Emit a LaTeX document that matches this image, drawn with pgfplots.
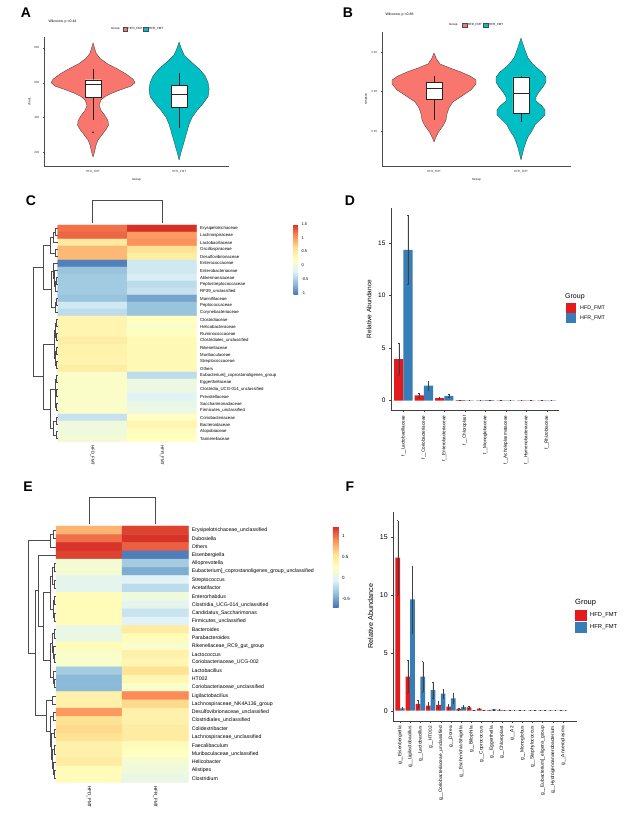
\documentclass[border=0pt]{standalone}
\usepackage{pgfplots}
\usepackage{pgfplotstable}
\pgfplotsset{compat=1.18}
\usepackage{fontspec}
\setmainfont{Liberation Sans}
\definecolor{vred}{HTML}{F8766D}
\definecolor{vteal}{HTML}{00BFC4}
\definecolor{hfd}{HTML}{E41A1C}
\definecolor{hfr}{HTML}{377EB8}
\newcommand{\fs}[1]{\fontsize{#1}{#1}\selectfont}
\pgfplotsset{
  /pgf/number format/assume math mode=true,
  colormap={rdylbu}{rgb255=(69,117,180) rgb255=(145,191,219) rgb255=(224,243,248) rgb255=(255,255,191) rgb255=(254,224,144) rgb255=(252,141,89) rgb255=(215,48,39)},
  violin/.style={scale only axis, axis x line*=bottom, axis y line*=left,
    axis line style={-, black!70, line width=0.3pt}, tick style={black!70, line width=0.3pt},
    tick align=outside, major tick length=1.2pt,
    tick label style={font=\fs{3}, text=black!75}, label style={font=\fs{3}},
    xlabel style={yshift=2pt}, ylabel style={yshift=-3pt}},
  heat/.style={scale only axis, y dir=reverse, clip=false, axis line style={draw=none},
    major tick length=0pt, xtick={0,1}, xticklabels={HFD\_FMT,HFR\_FMT},
    xticklabel style={rotate=-90, anchor=west}, ytick={1,...,31}, yticklabel pos=right,
    xmin=-0.5, xmax=1.5, ymin=0.5, ymax=31.5, colormap name=rdylbu},
  dendro/.style={scale only axis, hide axis, clip=false, x dir=reverse, y dir=reverse, xmin=0, ymin=0.5, ymax=31.5},
  bars/.style={scale only axis, axis x line*=bottom, axis y line*=left,
    axis line style={-, black!75, line width=0.4pt}, tick style={black!75, line width=0.4pt},
    tick align=outside, major tick length=2pt, ybar,
    xticklabel style={rotate=90, anchor=east}, ytick={0,5,10,15},
    ylabel={Relative Abundance}},
  bx/.style={draw=black!85, line width=0.3pt},
}
\pgfplotstableread{
x a ea b eb
1 3.95 1.5 14.35 3.3
2 0.50 0.2 1.42 0.42
3 0.25 0.07 0.45 0.12
4 0.06 0.02 0.03 0.01
5 0.03 0.01 0.05 0.02
6 0.02 0.01 0.03 0.01
7 0.02 0.01 0.02 0.01
8 0.02 0.01 0.02 0.01
}\dataD
\pgfplotstableread{
x a ea b eb
1 13.2 3.2 0.2 0.08
2 2.95 1.4 9.6 2.9
3 0.58 0.3 2.93 1.3
4 0.45 0.25 1.78 0.72
5 0.5 0.3 1.47 0.4
6 0.35 0.25 1.07 0.45
7 0.15 0.06 0.32 0.12
8 0.28 0.1 0.05 0.03
9 0.18 0.06 0.05 0.03
10 0.05 0.03 0.12 0.05
11 0.07 0.03 0.05 0.02
12 0.04 0.02 0.03 0.02
13 0.03 0.02 0.04 0.02
14 0.03 0.02 0.03 0.02
15 0.03 0.02 0.02 0.01
16 0.02 0.01 0.03 0.02
17 0.03 0.02 0.02 0.01
}\dataF
\pgfplotstableread{
x y c
0 1 1.2
1 1 1.5
0 2 1.25
1 2 1.0
0 3 0.5
1 3 1.05
0 4 0.85
1 4 0.6
0 5 0.85
1 5 0.45
0 6 -1.0
1 6 -0.3
0 7 -0.6
1 7 -0.3
0 8 -0.55
1 8 -0.25
0 9 -0.55
1 9 -0.4
0 10 -0.55
1 10 -0.35
0 11 -0.6
1 11 -0.8
0 12 -0.3
1 12 -0.6
0 13 -0.4
1 13 -0.6
0 14 0.35
1 14 0.2
0 15 0.35
1 15 0.15
0 16 0.35
1 16 0.2
0 17 0.45
1 17 0.3
0 18 0.4
1 18 0.3
0 19 0.4
1 19 0.3
0 20 0.35
1 20 0.3
0 21 0.45
1 21 0.3
0 22 0.15
1 22 -0.4
0 23 0.15
1 23 -0.05
0 24 0.15
1 24 -0.05
0 25 0.15
1 25 -0.2
0 26 0.15
1 26 -0.1
0 27 0.15
1 27 -0.05
0 28 -0.35
1 28 0.2
0 29 0.0
1 29 0.35
0 30 0.0
1 30 0.25
0 31 0.05
1 31 0.2
}\dataC
\pgfplotstableread{
x y c
0 1 0.75
1 1 1.15
0 2 1.0
1 2 1.2
0 3 1.2
1 3 1.05
0 4 1.15
1 4 -0.65
0 5 0.15
1 5 -0.3
0 6 0.15
1 6 -0.45
0 7 0.0
1 7 -0.05
0 8 0.0
1 8 -0.2
0 9 0.3
1 9 0.1
0 10 0.3
1 10 0.0
0 11 0.3
1 11 -0.15
0 12 0.3
1 12 -0.05
0 13 0.05
1 13 0.45
0 14 0.05
1 14 0.3
0 15 0.3
1 15 0.2
0 16 0.2
1 16 0.4
0 17 0.2
1 17 0.35
0 18 -0.3
1 18 0.55
0 19 -0.4
1 19 0.35
0 20 -0.4
1 20 0.2
0 21 0.4
1 21 0.9
0 22 0.4
1 22 0.6
0 23 0.85
1 23 0.4
0 24 0.55
1 24 0.4
0 25 0.6
1 25 0.45
0 26 0.55
1 26 0.45
0 27 0.4
1 27 0.3
0 28 0.4
1 28 0.25
0 29 0.45
1 29 0.15
0 30 0.3
1 30 0.1
0 31 0.3
1 31 0.05
}\dataE
\begin{document}
\begin{tikzpicture}[x=1pt,y=1pt]
\path[use as bounding box] (0,0) rectangle (628,829);
% panel letters
\foreach \l/\px/\py in {A/26/816,B/348/816,C/31/628,D/350/628,E/28/342,F/350/342}
  \node[font=\fs{14}\bfseries] at (\px,\py) {\l};

% ---------- A ----------
\node[anchor=west, font=\fs{3.5}] at (45,807.3) {Wilcoxon, p =0.44};
\node[anchor=west, font=\fs{3}, inner sep=0] at (111,800) {Group};
\fill[vred, draw=black!70, line width=0.2pt] (122.7,797.7) rectangle (127.3,802.3);
\node[anchor=west, font=\fs{3}, inner sep=0] at (128.3,800) {HFD\_FMT};
\fill[vteal, draw=black!70, line width=0.2pt] (143,797.7) rectangle (148,802.3);
\node[anchor=west, font=\fs{3}, inner sep=0] at (149,800) {HFR\_FMT};
\begin{axis}[violin, at={(44pt,663pt)}, anchor=south west, width=185pt, height=129pt,
  xmin=0.43, xmax=2.58, ymin=120, ymax=863, xtick={1,2}, xticklabels={HFD\_FMT,HFR\_FMT},
  ytick={200,400,600,800}, xlabel={Group}, ylabel={chao1}]
\addplot[fill=vred, draw=black!80, line width=0.3pt] coordinates {
(1,171) (1.017,200) (1.035,240) (1.058,270) (1.105,300) (1.151,330) (1.180,355) (1.174,380) (1.140,410) (1.093,440) (1.070,470) (1.093,500) (1.140,520) (1.221,540) (1.326,560) (1.442,580) (1.488,600) (1.465,620) (1.384,650) (1.279,680) (1.163,710) (1.081,740) (1.035,770) (1.017,800) (1,829)
(0.983,800) (0.965,770) (0.919,740) (0.837,710) (0.721,680) (0.616,650) (0.535,620) (0.512,600) (0.558,580) (0.674,560) (0.779,540) (0.860,520) (0.907,500) (0.930,470) (0.907,440) (0.860,410) (0.826,380) (0.820,355) (0.849,330) (0.895,300) (0.942,270) (0.965,240) (0.983,200) (1,171)};
\addplot[fill=vteal, draw=black!80, line width=0.3pt] coordinates {
(2,154) (2.023,200) (2.047,240) (2.070,280) (2.093,320) (2.116,360) (2.151,400) (2.209,440) (2.279,480) (2.337,520) (2.349,560) (2.337,600) (2.302,640) (2.233,680) (2.140,720) (2.058,760) (2.023,800) (2,834)
(1.977,800) (1.942,760) (1.860,720) (1.767,680) (1.698,640) (1.663,600) (1.651,560) (1.663,520) (1.721,480) (1.791,440) (1.849,400) (1.884,360) (1.907,320) (1.930,280) (1.953,240) (1.977,200) (2,154)};
% boxes: whiskers, box, median, outlier
\addplot[bx, unbounded coords=jump] coordinates {(1,383) (1,514) (nan,nan) (1,617) (1,680) (nan,nan) (2,337) (2,457) (nan,nan) (2,583) (2,657)};
\addplot[bx, fill=white] coordinates {(0.907,514) (1.093,514) (1.093,617) (0.907,617) (0.907,514)};
\addplot[bx, fill=white] coordinates {(1.907,457) (2.093,457) (2.093,583) (1.907,583) (1.907,457)};
\addplot[bx, unbounded coords=jump] coordinates {(0.907,594) (1.093,594) (nan,nan) (1.907,531) (2.093,531)};
\addplot[only marks, mark=*, mark size=0.6pt, black!85] coordinates {(1,314)};
\end{axis}

% ---------- B ----------
\node[anchor=west, font=\fs{3.5}] at (382,814) {Wilcoxon, p =0.86};
\node[anchor=west, font=\fs{3}, inner sep=0] at (449,804) {Group};
\fill[vred, draw=black!70, line width=0.2pt] (462,801.7) rectangle (466.7,806.3);
\node[anchor=west, font=\fs{3}, inner sep=0] at (467.7,804) {HFD\_FMT};
\fill[vteal, draw=black!70, line width=0.2pt] (483,801.7) rectangle (488,806.3);
\node[anchor=west, font=\fs{3}, inner sep=0] at (489,804) {HFR\_FMT};
\begin{axis}[violin, at={(382pt,663pt)}, anchor=south west, width=189pt, height=134pt,
  xmin=0.402, xmax=2.575, ymin=0.8057, ymax=0.9753, xtick={1,2}, xticklabels={HFD\_FMT,HFR\_FMT},
  ytick={0.85,0.9,0.95}, yticklabel style={/pgf/number format/.cd, fixed, fixed zerofill, precision=2},
  xlabel={Group}, ylabel={simpson}]
\addplot[fill=vred, draw=black!80, line width=0.3pt] coordinates {
(1,0.8361) (1.023,0.8424) (1.052,0.8487) (1.103,0.8563) (1.138,0.8639) (1.149,0.8715) (1.172,0.8791) (1.218,0.8867) (1.322,0.8943) (1.425,0.9019) (1.483,0.9095) (1.483,0.9146) (1.414,0.9196) (1.310,0.9247) (1.184,0.9297) (1.069,0.9348) (1.029,0.9411) (1,0.9487)
(0.971,0.9411) (0.931,0.9348) (0.816,0.9297) (0.690,0.9247) (0.586,0.9196) (0.517,0.9146) (0.517,0.9095) (0.575,0.9019) (0.678,0.8943) (0.782,0.8867) (0.828,0.8791) (0.851,0.8715) (0.862,0.8639) (0.897,0.8563) (0.948,0.8487) (0.977,0.8424) (1,0.8361)};
\addplot[fill=vteal, draw=black!80, line width=0.3pt] coordinates {
(2,0.8133) (2.017,0.8209) (2.034,0.8285) (2.057,0.8361) (2.080,0.8424) (2.126,0.8500) (2.161,0.8576) (2.218,0.8639) (2.276,0.8703) (2.276,0.8766) (2.241,0.8816) (2.172,0.8880) (2.172,0.8930) (2.207,0.8994) (2.253,0.9057) (2.287,0.9120) (2.287,0.9184) (2.241,0.9247) (2.172,0.9310) (2.126,0.9361) (2.080,0.9424) (2.046,0.9525) (2.023,0.9601) (2,0.9677)
(1.977,0.9601) (1.954,0.9525) (1.920,0.9424) (1.874,0.9361) (1.828,0.9310) (1.759,0.9247) (1.713,0.9184) (1.713,0.9120) (1.747,0.9057) (1.793,0.8994) (1.828,0.8930) (1.828,0.8880) (1.759,0.8816) (1.724,0.8766) (1.724,0.8703) (1.782,0.8639) (1.839,0.8576) (1.874,0.8500) (1.920,0.8424) (1.943,0.8361) (1.966,0.8285) (1.983,0.8209) (2,0.8133)};
\addplot[bx, unbounded coords=jump] coordinates {(1,0.8639) (1,0.8905) (nan,nan) (1,0.9120) (1,0.9196) (nan,nan) (2,0.8614) (2,0.8728) (nan,nan) (2,0.9184) (2,0.9190)};
\addplot[bx, fill=white] coordinates {(0.908,0.8905) (1.092,0.8905) (1.092,0.9120) (0.908,0.9120) (0.908,0.8905)};
\addplot[bx, fill=white] coordinates {(1.908,0.8728) (2.092,0.8728) (2.092,0.9184) (1.908,0.9184) (1.908,0.8728)};
\addplot[bx, unbounded coords=jump] coordinates {(0.908,0.9044) (1.092,0.9044) (nan,nan) (1.908,0.8981) (2.092,0.8981)};
\end{axis}

% ---------- C ----------
\begin{axis}[heat, at={(57.7pt,387pt)}, anchor=south west, width=139pt, height=217pt,
  xticklabel style={font=\fs{4.3}}, yticklabel style={font=\fs{4.3}},
  yticklabels={Erysipelotrichaceae, Lachnospiraceae, Lactobacillaceae, Oscillospiraceae, Desulfovibrionaceae, Enterococcaceae, Enterobacteriaceae, Akkermansiaceae, Peptostreptococcaceae, RF39\_unclassified, Marinifilaceae, Peptococcaceae, Corynebacteriaceae, Clostridiaceae, Helicobacteraceae, Ruminococcaceae, Clostridiales\_unclassified, Rikenellaceae, Muribaculaceae, Streptococcaceae, Others, {Eubacterium]\_coprostanoligenes\_group}, Eggerthellaceae, Clostridia\_UCG-014\_unclassified, Prevotellaceae, Saccharimonadaceae, Firmicutes\_unclassified, Coriobacteriaceae, Bacteroidaceae, Atopobiaceae, Tannerellaceae},
  point meta min=-1.07, point meta max=1.5, colorbar,
  colorbar style={at={(parent axis.north east)}, anchor=north west, xshift=88.3pt, yshift=1pt,
    width=4.5pt, height=71pt, scale only axis, ytick={-1,-0.5,0,0.5,1,1.5},
    yticklabel style={font=\fs{4}}, major tick length=0pt, axis line style={draw=none}}]
\addplot[matrix plot*, mesh/cols=2, point meta=explicit] table[x=x, y=y, meta=c] {\dataC};
\addplot[black!70, line width=0.35pt] coordinates {(0,0.25) (0,-3.07) (1,-3.07) (1,0.25)};
\end{axis}
\begin{axis}[dendro, at={(57.7pt,387pt)}, anchor=south east, width=25pt, height=217pt, xmax=25]
\addplot[black!70, line width=0.35pt, unbounded coords=jump] coordinates {
(0,1)(3,1)(3,2)(0,2) (nan,nan)
(3,1.5)(5,1.5)(5,3)(0,3) (nan,nan)
(0,4)(3,4)(3,5)(0,5) (nan,nan)
(5,2.25)(8,2.25)(8,4.5)(3,4.5) (nan,nan)
(0,8)(1.5,8)(1.5,9)(0,9) (nan,nan)
(1.5,8.5)(2.5,8.5)(2.5,10)(0,10) (nan,nan)
(0,7)(3.5,7)(3.5,9.25)(2.5,9.25) (nan,nan)
(0,6)(5,6)(5,8.125)(3.5,8.125) (nan,nan)
(0,11)(2,11)(2,12)(0,12) (nan,nan)
(2,11.5)(3,11.5)(3,13)(0,13) (nan,nan)
(5,7.0625)(7,7.0625)(7,12.25)(3,12.25) (nan,nan)
(8,3.375)(14.3,3.375)(14.3,9.656)(7,9.656) (nan,nan)
(0,14)(1.5,14)(1.5,15)(0,15) (nan,nan)
(0,16)(1.5,16)(1.5,17)(0,17) (nan,nan)
(1.5,14.5)(2.5,14.5)(2.5,16.5)(1.5,16.5) (nan,nan)
(0,18)(1.5,18)(1.5,19)(0,19) (nan,nan)
(0,20)(2,20)(2,21)(0,21) (nan,nan)
(1.5,18.5)(3,18.5)(3,20.5)(2,20.5) (nan,nan)
(2.5,15.5)(4,15.5)(4,19.5)(3,19.5) (nan,nan)
(0,22)(1.5,22)(1.5,23)(0,23) (nan,nan)
(0,24)(1.2,24)(1.2,25)(0,25) (nan,nan)
(0,26)(1.5,26)(1.5,27)(0,27) (nan,nan)
(1.2,24.5)(2.2,24.5)(2.2,26.5)(1.5,26.5) (nan,nan)
(1.5,22.5)(3,22.5)(3,25.5)(2.2,25.5) (nan,nan)
(0,28)(2,28)(2,29)(0,29) (nan,nan)
(0,30)(1.5,30)(1.5,31)(0,31) (nan,nan)
(2,28.5)(5,28.5)(5,30.5)(1.5,30.5) (nan,nan)
(3,24)(8,24)(8,29.5)(5,29.5) (nan,nan)
(4,17.5)(15,17.5)(15,26.75)(8,26.75) (nan,nan)
(14.3,6.516)(25,6.516)(25,22.125)(15,22.125)};
\end{axis}

% ---------- D ----------
\node[anchor=west, font=\fs{7}, inner sep=0] at (565,532) {Group};
\fill[hfd] (565.7,516) rectangle (575.7,526);
\fill[hfr] (565.7,505.5) rectangle (575.7,515.5);
\node[anchor=west, font=\fs{5.3}, inner sep=0] at (580,521) {HFD\_FMT};
\node[anchor=west, font=\fs{5.3}, inner sep=0] at (580,510.5) {HFR\_FMT};
\begin{axis}[bars, at={(391pt,419pt)}, anchor=south west, width=168pt, height=202pt,
  xmin=0.4, xmax=8.6, ymin=-0.89, ymax=18.33, xtick={1,...,8},
  xticklabels={f\_\_Lactobacillaceae, f\_\_Coriobacteriaceae, f\_\_Enterobacteriaceae, f\_\_Chloroplast, f\_\_Monoglobaceae, f\_\_Acholeplasmataceae, f\_\_Hymenobacteraceae, f\_\_Rhizobiaceae},
  xticklabel style={font=\fs{4.6}}, yticklabel style={font=\fs{6.5}}, ylabel style={font=\fs{6.5}}]
\addplot[ybar, bar width=0.45, bar shift=-0.225, fill=hfd, draw=none,
  error bars/.cd, y dir=both, y explicit, error bar style={black!75, line width=0.35pt},
  error mark options={rotate=90, mark size=0.8pt, black!75, line width=0.35pt}]
  table[x=x, y=a, y error=ea] {\dataD};
\addplot[ybar, bar width=0.45, bar shift=0.225, fill=hfr, draw=none,
  error bars/.cd, y dir=both, y explicit, error bar style={black!75, line width=0.35pt},
  error mark options={rotate=90, mark size=0.8pt, black!75, line width=0.35pt}]
  table[x=x, y=b, y error=eb] {\dataD};
\end{axis}

% ---------- E ----------
\begin{axis}[heat, at={(56pt,46.3pt)}, anchor=south west, width=132.3pt, height=256.7pt,
  xticklabel style={font=\fs{4.6}}, yticklabel style={font=\fs{5.2}},
  yticklabels={Erysipelotrichaceae\_unclassified, Dubosiella, Others, Eisenbergiella, Alloprevotella, {Eubacterium]\_coprostanoligenes\_group\_unclassified}, Streptococcus, Acetatifactor, Enterorhabdus, Clostridia\_UCG-014\_unclassified, Candidatus\_Saccharimonas, Firmicutes\_unclassified, Bacteroides, Parabacteroides, Rikenellaceae\_RC9\_gut\_group, Lactococcus, Coriobacteriaceae\_UCG-002, Lactobacillus, HT002, Coriobacteriaceae\_unclassified, Ligilactobacillus, Lachnospiraceae\_NK4A136\_group, Desulfovibrionaceae\_unclassified, Clostridiales\_unclassified, Colidextribacter, Lachnospiraceae\_unclassified, Faecalibaculum, Muribaculaceae\_unclassified, Helicobacter, Alistipes, Clostridium},
  point meta min=-0.69, point meta max=1.21, colorbar,
  colorbar style={at={(parent axis.north east)}, anchor=north west, xshift=136pt, yshift=-0.7pt,
    width=5.7pt, height=80.6pt, scale only axis, ytick={-0.5,0,0.5,1},
    yticklabel style={font=\fs{4.5}}, major tick length=0pt, axis line style={draw=none}}]
\addplot[matrix plot*, mesh/cols=2, point meta=explicit] table[x=x, y=y, meta=c] {\dataE};
\addplot[black!70, line width=0.35pt] coordinates {(0,0.25) (0,-3.04) (1,-3.04) (1,0.25)};
\end{axis}
\begin{axis}[dendro, at={(56pt,46.3pt)}, anchor=south east, width=27.7pt, height=256.7pt, xmax=27.7]
\addplot[black!70, line width=0.35pt, unbounded coords=jump] coordinates {
(0,1)(3,1)(3,2)(0,2) (nan,nan)
(3,1.5)(6,1.5)(6,3)(0,3) (nan,nan)
(0,5)(2,5)(2,6)(0,6) (nan,nan)
(0,7)(2,7)(2,8)(0,8) (nan,nan)
(2,5.5)(4,5.5)(4,7.5)(2,7.5) (nan,nan)
(0,9)(1.5,9)(1.5,10)(0,10) (nan,nan)
(0,11)(1.5,11)(1.5,12)(0,12) (nan,nan)
(1.5,9.5)(3,9.5)(3,11.5)(1.5,11.5) (nan,nan)
(4,6.5)(6,6.5)(6,10.5)(3,10.5) (nan,nan)
(0,13)(2,13)(2,14)(0,14) (nan,nan)
(0,16)(1.5,16)(1.5,17)(0,17) (nan,nan)
(0,15)(2.5,15)(2.5,16.5)(1.5,16.5) (nan,nan)
(2,13.5)(3.5,13.5)(3.5,15.75)(2.5,15.75) (nan,nan)
(0,19)(1.5,19)(1.5,20)(0,20) (nan,nan)
(0,18)(3,18)(3,19.5)(1.5,19.5) (nan,nan)
(3.5,14.625)(6,14.625)(6,18.75)(3,18.75) (nan,nan)
(6,8.5)(13,8.5)(13,16.6875)(6,16.6875) (nan,nan)
(0,4)(17.7,4)(17.7,12.594)(13,12.594) (nan,nan)
(0,21)(4,21)(4,22)(0,22) (nan,nan)
(0,23)(2.5,23)(2.5,24)(0,24) (nan,nan)
(0,25)(1.5,25)(1.5,26)(0,26) (nan,nan)
(0,27)(2,27)(2,28)(0,28) (nan,nan)
(0,30)(1.5,30)(1.5,31)(0,31) (nan,nan)
(0,29)(2.5,29)(2.5,30.5)(1.5,30.5) (nan,nan)
(2,27.5)(3.5,27.5)(3.5,29.75)(2.5,29.75) (nan,nan)
(1.5,25.5)(4.5,25.5)(4.5,28.625)(3.5,28.625) (nan,nan)
(2.5,23.5)(6,23.5)(6,27.0625)(4.5,27.0625) (nan,nan)
(4,21.5)(10,21.5)(10,25.281)(6,25.281) (nan,nan)
(17.7,8.297)(21,8.297)(21,23.391)(10,23.391) (nan,nan)
(6,2.25)(27.7,2.25)(27.7,15.844)(21,15.844)};
\end{axis}

% ---------- F ----------
\node[anchor=west, font=\fs{7.5}, inner sep=0] at (575,226) {Group};
\fill[hfd] (575,208.3) rectangle (586.7,219);
\fill[hfr] (575,196.3) rectangle (586.7,207.3);
\node[anchor=west, font=\fs{5.8}, inner sep=0] at (590,213.5) {HFD\_FMT};
\node[anchor=west, font=\fs{5.8}, inner sep=0] at (590,202) {HFR\_FMT};
\begin{axis}[bars, at={(393.3pt,108.3pt)}, anchor=south west, width=183.4pt, height=209pt,
  xmin=0.34, xmax=18.34, ymin=-0.86, ymax=17.16, xtick={1,...,17},
  xticklabels={g\_\_Eisenbergiella, g\_\_Ligilactobacillus, g\_\_Lactobacillus, g\_\_HT002, g\_\_Coriobacteriaceae\_unclassified, g\_\_Dorea, g\_\_Escherichia-Shigella, g\_\_Bilophila, g\_\_Coprococcus, g\_\_Eggerthella, g\_\_Chloroplast, g\_\_A2, g\_\_Monoglobus, g\_\_Staphylococcus, {g\_\_Eubacterium]\_eligens\_group}, g\_\_Hydrogenoanaerobacterium, g\_\_Anaeroplasma},
  xticklabel style={font=\fs{4.8}}, yticklabel style={font=\fs{7}}, ylabel style={font=\fs{7.2}}]
\addplot[ybar, bar width=0.46, bar shift=-0.23, fill=hfd, draw=none,
  error bars/.cd, y dir=both, y explicit, error bar style={black!75, line width=0.35pt},
  error mark options={rotate=90, mark size=0.6pt, black!75, line width=0.35pt}]
  table[x=x, y=a, y error=ea] {\dataF};
\addplot[ybar, bar width=0.46, bar shift=0.23, fill=hfr, draw=none,
  error bars/.cd, y dir=both, y explicit, error bar style={black!75, line width=0.35pt},
  error mark options={rotate=90, mark size=0.6pt, black!75, line width=0.35pt}]
  table[x=x, y=b, y error=eb] {\dataF};
\end{axis}
\end{tikzpicture}
\end{document}
